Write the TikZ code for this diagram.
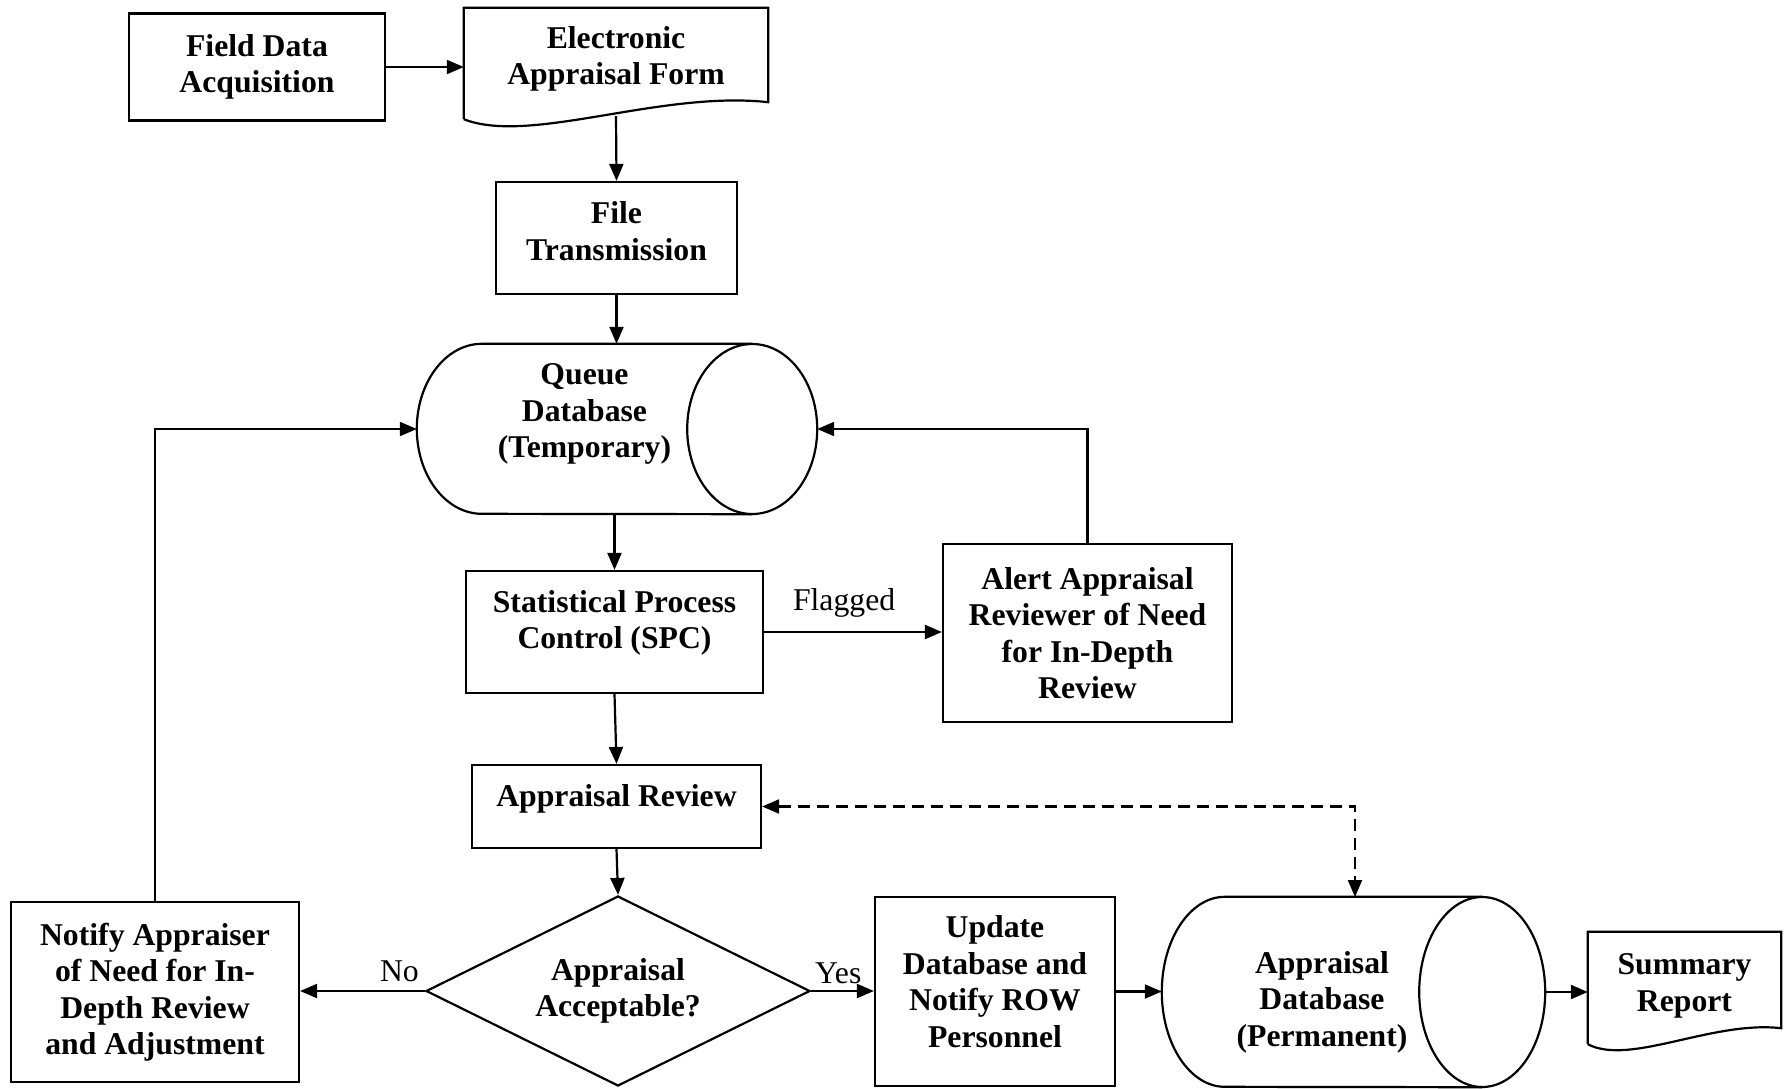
\documentclass[tikz,border=0pt]{standalone}
\usepackage{fontspec}
\setmainfont{Liberation Serif}
\usetikzlibrary{arrows.meta,calc,shapes.geometric,positioning}
\newcommand{\flowfont}{\fontsize{31.7}{36.5}\selectfont}

\tikzset{
  box/.style={draw, line width=2.2pt, align=center, font=\bfseries\flowfont, inner sep=3pt},
  plain/.style={align=center, font=\bfseries\flowfont, inner sep=3pt},
  txt/.style={align=center, font=\bfseries\flowfont, inner sep=0pt},
  decision/.style={diamond, draw, line width=2.2pt, align=center, font=\bfseries\flowfont,
    inner sep=0pt, aspect=2.02, minimum width=384pt, minimum height=190pt},
  outline/.style={line width=2.2pt},
  arr/.style={line width=2.2pt, -{Triangle[length=17pt,width=14pt]}},
  dasharr/.style={line width=2.2pt, {Triangle[length=17pt,width=14pt]}-{Triangle[length=17pt,width=14pt]},
    dash pattern=on 12pt off 7pt},
  lbl/.style={font=\flowfont}
}

\begin{document}
\begin{tikzpicture}[x=1pt,y=1pt]
    \useasboundingbox (0,0) rectangle (1791,-1088);
    % top row
    \node[box, minimum width=256pt, minimum height=107pt] (field) at (257,-67) {Field Data\\Acquisition};
    \node[plain, minimum width=304pt, minimum height=102pt] (elec) at (616,-59) {Electronic\\Appraisal Form};
    \draw[outline] ([yshift=-9pt]elec.south west) -- (elec.north west) -- (elec.north east)
        -- ([yshift=8pt]elec.south east)
        .. controls +(-108,12) and +(66,-26) .. ([yshift=-9pt]elec.south west);
    \coordinate (elecout) at (616,-116);
    \node[box, minimum width=241pt, minimum height=112pt,
          label={[txt, yshift=7pt]center:{File\\Transmission}}] (file) at (616.5,-238) {};
    % queue database (cylinder)
    \node[plain, minimum width=335pt, minimum height=170pt,
          label={[txt, yshift=15pt]center:{Queue\\Database\\(Temporary)}}] (queue) at (584.5,-429) {};
    \draw[outline] (queue.east) ellipse[x radius=65pt, y radius=85pt];
    \draw[outline] (queue.north east) -- ([xshift=65pt]queue.north west)
        arc[start angle=90, end angle=270, x radius=65pt, y radius=85pt] -- (queue.south east);
    \coordinate (queueR) at ([xshift=65pt]queue.east);
    % middle
    \node[box, minimum width=297pt, minimum height=122pt,
          label={[txt, yshift=9pt]center:{Statistical Process\\Control (SPC)}}] (spc) at (614.5,-632) {};
    \node[box, minimum width=289pt, minimum height=178pt] (alert) at (1087.5,-633) {Alert Appraisal\\Reviewer of Need\\for In-Depth\\Review};
    \node[box, minimum width=289pt, minimum height=83pt,
          label={[txt, yshift=8pt]center:{Appraisal Review}}] (review) at (616.5,-806.5) {};
    % bottom row
    \node[decision] (accept) at (618,-991) {Appraisal\\Acceptable?};
    \node[box, minimum width=288pt, minimum height=180pt] (notify) at (155,-992) {Notify Appraiser\\of Need for In-\\Depth Review\\and Adjustment};
    \node[box, minimum width=240pt, minimum height=189pt,
          label={[txt, yshift=10pt]center:{Update\\Database and\\Notify ROW\\Personnel}}] (update) at (995,-991.5) {};
    \node[plain, minimum width=320pt, minimum height=190pt,
          label={[txt, yshift=-10pt]center:{Appraisal\\Database\\(Permanent)}}] (appdb) at (1322,-992) {};
    \draw[outline] (appdb.east) ellipse[x radius=63pt, y radius=95pt];
    \draw[outline] (appdb.north east) -- ([xshift=63pt]appdb.north west)
        arc[start angle=90, end angle=270, x radius=63pt, y radius=95pt] -- (appdb.south east);
    \coordinate (appdbR) at ([xshift=63pt]appdb.east);
    \coordinate (appdbtop) at (1355,-897);
    \node[plain, minimum width=193pt, minimum height=108pt] (summary) at (1684.5,-986) {Summary\\Report};
    \draw[outline] ([yshift=-4pt]summary.south west) -- (summary.north west) -- (summary.north east)
        -- ([yshift=12pt]summary.south east)
        .. controls +(-69,8) and +(42,-22) .. ([yshift=-4pt]summary.south west);

    % connectors
    \draw[arr] (field.east) -- (field.east -| elec.west);
    \draw[arr] (elecout) -- (file.north);
    \draw[arr] (file.south) -- (file.south |- queue.north);
    \draw[arr] (spc.north |- queue.south) -- (spc.north);
    \draw[arr] (spc.east) -- node[lbl, above, pos=0.45, yshift=10pt] {Flagged} (spc.east -| alert.west);
    \draw[arr] (alert.north) |- (queueR);
    \draw[arr] (spc.south) -- (review.north);
    \draw[arr] (review.south) -- (accept.north);
    \draw[arr] (accept.west) -- node[lbl, pos=0, above left, inner sep=5pt, yshift=3pt] {No} (accept.west -| notify.east);
    \draw[arr] (accept.east) -- node[lbl, pos=0, above right, inner sep=3pt, yshift=3pt] {Yes} (accept.east -| update.west);
    \draw[arr] (notify.north) |- (queue.west);
    \draw[arr] (update.east) -- (update.east -| appdb.west);
    \draw[arr] (appdbR) -- (appdbR -| summary.west);
    \draw[dasharr] (review.east) -| (appdbtop);
\end{tikzpicture}
\end{document}
